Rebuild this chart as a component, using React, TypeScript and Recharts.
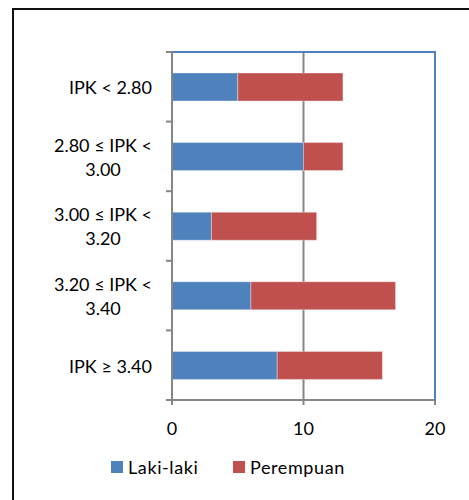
import { BarChart, Bar, XAxis, YAxis, CartesianGrid, ReferenceArea } from 'recharts'

const categories = ['IPK < 2.80', '2.80 ≤ IPK < 3.00', '3.00 ≤ IPK < 3.20', '3.20 ≤ IPK < 3.40', 'IPK ≥ 3.40']
const lakiLaki = [5, 10, 3, 6, 8]
const perempuan = [8, 3, 8, 11, 8]
const seriesNames = ['Laki-laki', 'Perempuan']
const xTicks = [0, 10, 20]

const COLORS = ['#4F81BD', '#C0504D']
const GRAY = '#868686'
const FONT = 'Lato, "Open Sans", sans-serif'
const FS = 18

const data = categories.map((c, i) => ({ label: c, laki: lakiLaki[i], perempuan: perempuan[i] }))

let ctx: CanvasRenderingContext2D | null = null
function measure(text: string) {
  if (!ctx) ctx = document.createElement('canvas').getContext('2d')
  if (!ctx) return text.length * 8
  ctx.font = `${FS}px ${FONT}`
  return ctx.measureText(text).width
}

function splitLabel(s: string) {
  if (s.length <= 12) return [s]
  const i = s.lastIndexOf(' ')
  return [s.slice(0, i), s.slice(i + 1)]
}

function CategoryTick(props: any) {
  const { x, y, payload, index } = props
  const half = payload.offset || 34.8
  const lines = splitLabel(payload.value)
  const right = x - 20
  const w = Math.max(...lines.map(measure))
  const cx = right - w / 2
  const lh = 24
  const y0 = y - ((lines.length - 1) * lh) / 2 + 1
  return (
    <g>
      <line x1={x - 6} x2={x} y1={y - half} y2={y - half} stroke={GRAY} strokeWidth={2} />
      {index === categories.length - 1 && (
        <line x1={x - 6} x2={x} y1={y + half} y2={y + half} stroke={GRAY} strokeWidth={2} />
      )}
      <text textAnchor="middle" fontFamily={FONT} fontSize={FS} fill="#000">
        {lines.map((l, i) => (
          <tspan key={i} x={cx} y={y0 + i * lh} dy="0.35em">{l}</tspan>
        ))}
      </text>
    </g>
  )
}

export default function App() {
  return (
    <div style={{ position: 'absolute', left: 0, top: 0, width: 469, height: 500, overflow: 'hidden', background: '#fff' }}>
      <div style={{ position: 'absolute', left: 12, top: 8, width: 520, height: 560, border: '2px solid #111' }} />
      <div style={{ position: 'absolute', left: 0, top: 0 }}>
        <BarChart
          layout="vertical"
          width={469}
          height={500}
          data={data}
          barSize={28}
          margin={{ top: 52, right: 34, left: 0, bottom: 0 }}
        >
          <CartesianGrid horizontal={false} stroke={GRAY} strokeWidth={2} strokeDasharray="" />
          <ReferenceArea x1={0} x2={20} fill="none" stroke="#4F81BD" strokeWidth={2} ifOverflow="visible" />
          <Bar dataKey="laki" name={seriesNames[0]} stackId="a" fill={COLORS[0]} stroke="rgba(255,255,255,0.35)" isAnimationActive={false} />
          <Bar dataKey="perempuan" name={seriesNames[1]} stackId="a" fill={COLORS[1]} stroke="rgba(255,255,255,0.35)" isAnimationActive={false} />
          <XAxis
            type="number"
            domain={[0, 20]}
            ticks={xTicks}
            height={100}
            stroke={GRAY}
            axisLine={{ stroke: GRAY, strokeWidth: 2 }}
            tickLine={{ stroke: GRAY, strokeWidth: 2 }}
            tickSize={5}
            tickMargin={17}
            tick={{ fill: '#000', fontSize: FS, fontFamily: FONT }}
          />
          <YAxis
            type="category"
            dataKey="label"
            width={172}
            axisLine={{ stroke: GRAY, strokeWidth: 2 }}
            tickLine={false}
            tickSize={0}
            tickMargin={0}
            interval={0}
            tick={<CategoryTick />}
          />
        </BarChart>
      </div>
      <div style={{ position: 'absolute', left: 111, top: 456, display: 'flex', alignItems: 'center', fontFamily: FONT, fontSize: FS, color: '#000' }}>
        {seriesNames.map((n, i) => (
          <div key={n} style={{ display: 'flex', alignItems: 'center', width: i === 0 ? 122 : 'auto' }}>
            <span style={{ width: 12, height: 12, background: COLORS[i], display: 'inline-block', marginRight: 5 }} />
            <span style={{ letterSpacing: 0.6 }}>{n}</span>
          </div>
        ))}
      </div>
    </div>
  )
}
